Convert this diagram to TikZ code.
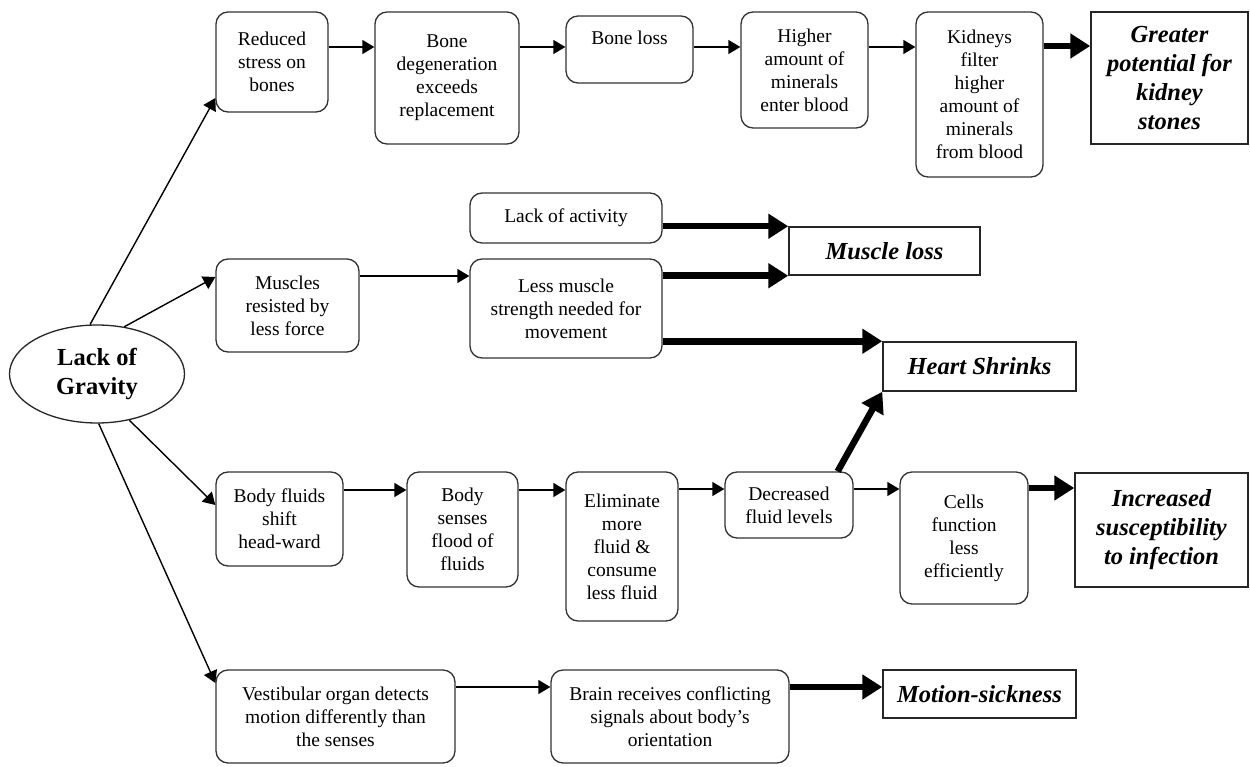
\documentclass[tikz,border=0pt]{standalone}
\usepackage{fontspec}
\setmainfont{Liberation Serif}
\usetikzlibrary{arrows.meta,shapes.geometric,calc}
\begin{document}
\begin{tikzpicture}[x=1pt,y=-1pt,
 box/.style={draw=black!80, line width=1.3pt, rounded corners=12pt, align=center, inner sep=0pt, font=\fontsize{19.5}{23}\selectfont},
 result/.style={draw=black!85, line width=1.5pt, align=center, inner sep=0pt, font=\fontsize{24.5}{29}\selectfont\bfseries\itshape},
 thinarrow/.style={line width=1.4pt, -{Triangle[length=12pt,width=14pt]}},
 thickarrow/.style={line width=6.5pt, -{Triangle[length=20pt,width=24pt]}},
 ]
\useasboundingbox[fill=white] (0,0) rectangle (1250,767);

% root
\node[ellipse, draw=black!85, line width=1.3pt, minimum width=175pt, minimum height=98pt, inner sep=0pt, align=center, font=\fontsize{24.5}{29}\selectfont\bfseries] (grav) at (97,374) {Lack of\\Gravity};

% bone row
\node[box, minimum width=112pt, minimum height=100pt] (red) at (272,62) {Reduced\\stress on\\bones};
\node[box, minimum width=144pt, minimum height=132pt] (deg) at (447,78) {Bone\\degeneration\\exceeds\\replacement};
\node[box, minimum width=127pt, minimum height=67pt, text height=29pt, text depth=38pt] (bloss) at (629.5,49.5) {Bone loss};
\node[box, minimum width=127pt, minimum height=116pt] (high) at (804.5,70) {Higher\\amount of\\minerals\\enter blood};
\node[box, minimum width=127pt, minimum height=165pt] (kid) at (979.5,94.5) {Kidneys\\filter\\higher\\amount of\\minerals\\from blood};
\node[result, minimum width=157pt, minimum height=132pt] (stones) at (1169.5,78) {Greater\\potential for\\kidney\\stones};

% muscle row
\node[box, minimum width=192pt, minimum height=50pt] (act) at (566,218) {Lack of activity};
\node[result, minimum width=191pt, minimum height=48pt] (mloss) at (884.5,251) {Muscle loss};
\node[box, minimum width=143pt, minimum height=93pt] (musc) at (287.5,305.5) {Muscles\\resisted by\\less force};
\node[box, minimum width=192pt, minimum height=99pt] (less) at (566,308.5) {Less muscle\\strength needed for\\movement};
\node[result, minimum width=193pt, minimum height=49pt] (heart) at (979.5,366.5) {Heart Shrinks};

% fluid row
\node[box, minimum width=127pt, minimum height=94pt] (fluid) at (279.5,519) {Body fluids\\shift\\head-ward};
\node[box, minimum width=111pt, minimum height=115pt] (senses) at (462.5,529.5) {Body\\senses\\flood of\\fluids};
\node[box, minimum width=112pt, minimum height=149pt] (elim) at (622,546.5) {Eliminate\\more\\fluid \&\\consume\\less fluid};
\node[box, minimum width=128pt, minimum height=66pt] (decr) at (789,505) {Decreased\\fluid levels};
\node[box, minimum width=128pt, minimum height=132pt] (cells) at (964,538) {Cells\\function\\less\\efficiently};
\node[result, minimum width=173pt, minimum height=114pt] (infect) at (1161.5,530) {Increased\\susceptibility\\to infection};

% vestibular row
\node[box, minimum width=239pt, minimum height=93pt] (vest) at (335.5,716.5) {Vestibular organ detects\\motion differently than\\the senses};
\node[box, minimum width=238pt, minimum height=93pt] (brain) at (670,716.5) {Brain receives conflicting\\signals about body’s\\orientation};
\node[result, minimum width=193pt, minimum height=48pt] (motion) at (979.5,694) {Motion-sickness};

% connectors from root
\draw[thinarrow] (grav.98) -- (red.west |- 0,98);
\draw[thinarrow] (grav.60) -- (musc.west |- 0,277);
\draw[thinarrow] (grav.-55) -- (fluid.west |- 0,505);
\draw[thinarrow] (grav.-88) -- (vest.west |- 0,683);

% bone row
\draw[thinarrow] (red.east |- 0,47) -- (deg.west |- 0,47);
\draw[thinarrow] (deg.east |- 0,47) -- (bloss.west |- 0,47);
\draw[thinarrow] (bloss.east |- 0,47) -- (high.west |- 0,47);
\draw[thinarrow] (high.east |- 0,47) -- (kid.west |- 0,47);
\draw[thickarrow] (kid.east |- 0,46) -- (stones.west |- 0,46);

% muscle row
\draw[thickarrow] (act.east |- mloss.north west) -- (mloss.north west);
\draw[thickarrow] (less.east |- mloss.south west) -- (mloss.south west);
\draw[thinarrow] (musc.east |- 0,276) -- (less.west |- 0,276);
\draw[thickarrow] (less.east |- heart.north west) -- (heart.north west);

% fluid row
\draw[thinarrow] (fluid.east |- 0,490) -- (senses.west |- 0,490);
\draw[thinarrow] (senses.east |- 0,490) -- (elim.west |- 0,490);
\draw[thinarrow] (elim.east |- 0,489) -- (decr.west |- 0,489);
\draw[thinarrow] (decr.east |- 0,489) -- (cells.west |- 0,489);
\draw[thickarrow] (cells.east |- 0,488) -- (infect.west |- 0,488);
\draw[thickarrow] ([xshift=-16pt]decr.north east) -- (heart.south west);

% vestibular row
\draw[thinarrow] (vest.east |- 0,687) -- (brain.west |- 0,687);
\draw[thickarrow] (brain.east |- 0,687) -- (motion.west |- 0,687);
\end{tikzpicture}
\end{document}
